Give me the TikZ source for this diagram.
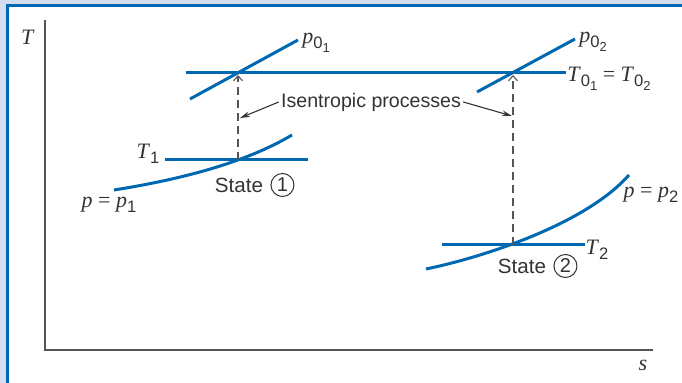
\documentclass[tikz,border=0pt]{standalone}
\usepackage{fontspec}
\setmainfont{Liberation Serif}
\setsansfont{Liberation Sans}
\usetikzlibrary{arrows.meta,positioning}

\definecolor{lineblue}{HTML}{0067B1}
\definecolor{framefill}{HTML}{D4DDEE}
\definecolor{axisgrey}{HTML}{555555}
\definecolor{textgrey}{HTML}{333333}

% subscripts in sans, as the figure prints them
\newcommand{\sbs}[1]{\raisebox{-0.55ex}{\sffamily\fontsize{8.3}{9}\selectfont #1}}
\newcommand{\ssbs}[1]{\raisebox{-0.45ex}{\fontsize{6.5}{7}\selectfont #1}}

\tikzset{
  isobar/.style={lineblue, line width=1.5pt},
  axis/.style={axisgrey, line width=0.9pt},
  process/.style={axisgrey, line width=0.55pt, dash pattern=on 4pt off 2.5pt,
    -{Straight Barb[length=2.5pt,width=4.5pt]}, shorten >=1pt},
  pointer/.style={textgrey, line width=0.55pt, -{Stealth[length=5pt,width=2.8pt]}},
  mathlbl/.style={textgrey, inner sep=1pt, font=\fontsize{11}{13}\selectfont},
  sanslbl/.style={textgrey, inner sep=1pt, font=\sffamily\fontsize{9.8}{12}\selectfont},
  statelbl/.style={sanslbl, font=\sffamily\fontsize{10.3}{12}\selectfont},
  circnum/.style={textgrey, draw, circle, line width=0.5pt, inner sep=0pt,
    minimum size=11.5pt, font=\sffamily\fontsize{10}{12}\selectfont}
}

\begin{document}
\begin{tikzpicture}[x=0.5pt, y=-0.5pt]
    \useasboundingbox (0,0) rectangle (682,383);

    % frame
    \fill[framefill] (0,0) rectangle (682,6);
    \fill[framefill] (0,0) rectangle (6,383);
    \draw[lineblue, line width=1.5pt] (7.3,383) -- (7.3,5.8) -- (682,5.8);

    % axes
    \draw[axis] (45,20) -- (45,350) -- (653,350);
    \node[mathlbl] (tax) at (28,37) {\textit{T}};
    \node[mathlbl] (sax) at (643,365) {\textit{s}};

    % states and stagnation points
    \coordinate (s1) at (238,160);
    \coordinate (s2) at (513,245);
    \coordinate (o1) at (238,73);
    \coordinate (o2) at (513,73);

    % stagnation temperature
    \draw[isobar] (186,73) -- (566,73);
    \node[mathlbl] (tzero) at (609,79) {\textit{T}\sbs{0\ssbs{1}} = \textit{T}\sbs{0\ssbs{2}}};

    % stagnation pressures
    \draw[isobar] (190,99) -- (298,40);
    \node[mathlbl, anchor=west] (pzero1) at (300,43) {\textit{p}\sbs{0\ssbs{1}}};
    \draw[isobar] (477,92) -- (575,39);
    \node[mathlbl, anchor=west] (pzero2) at (577,42) {\textit{p}\sbs{0\ssbs{2}}};

    % state 1
    \draw[isobar] (165,160) -- (308,160);
    \node[mathlbl] (tone) at (148,154) {\textit{T}\sbs{1}};
    \draw[isobar] (114,190) .. controls (190,178) and (250,160) .. (292,135);
    \node[mathlbl] (pone) at (109,205) {\textit{p} = \textit{p}\sbs{1}};
    \node[statelbl] (st1) at (239,185) {State};
    \node[circnum, right=2.5pt of st1] (c1) {1};

    % state 2
    \draw[isobar] (442,245) -- (585,245);
    \node[mathlbl] (ttwo) at (597,250) {\textit{T}\sbs{2}};
    \draw[isobar] (426,269) .. controls (480,258) and (585,225) .. (629,175);
    \node[mathlbl] (ptwo) at (651,195) {\textit{p} = \textit{p}\sbs{2}};
    \node[statelbl] (st2) at (522,266) {State};
    \node[circnum, right=2.5pt of st2] (c2) {2};

    % isentropic processes
    \draw[process] (s1) -- (o1);
    \draw[process] (s2) -- (o2);
    \node[sanslbl] (isen) at (371,102) {Isentropic processes};
    \coordinate (a1) at (240,118);
    \coordinate (a2) at (512,116);
    \draw[pointer] (isen.west) -- (a1);
    \draw[pointer] (isen.east) -- (a2);
\end{tikzpicture}
\end{document}
